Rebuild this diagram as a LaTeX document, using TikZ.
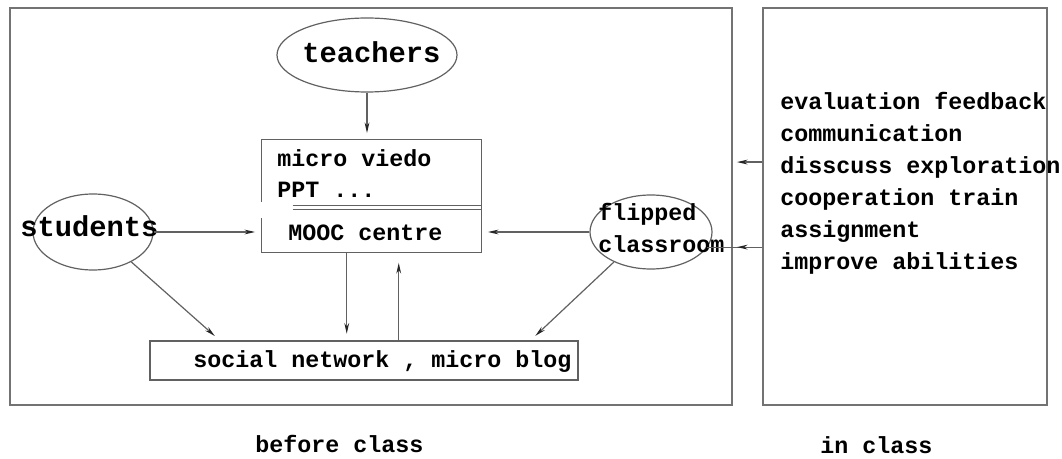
\documentclass[tikz,border=0pt]{standalone}
\usepackage{fontspec}
\setmainfont{Liberation Mono}
\usetikzlibrary{arrows.meta,calc,shapes.geometric}
\begin{document}
\begin{tikzpicture}[x=0.75pt,y=-0.75pt,
  frame/.style={rectangle, draw=black!55, line width=1.4pt, inner sep=0pt},
  line/.style={draw=black!62, line width=0.9pt},
  arr/.style={line, -{Stealth[length=8pt,width=3.6pt,black!85]}, shorten >=5pt},
  oval/.style={ellipse, draw=black!62, line width=0.9pt, inner sep=0pt},
  txt/.style={font=\fontsize{17.5}{24}\selectfont\bfseries, inner sep=0pt, align=left},
  big/.style={font=\fontsize{21.6}{26}\selectfont\bfseries, inner sep=0pt}
]
\useasboundingbox (0,0) rectangle (1062,459);

% frames
\node[frame, minimum width=541.5pt, minimum height=297.75pt] (before) at (371,206.5) {};
\node[frame, minimum width=213pt, minimum height=297.75pt] (inclass) at (905,206.5) {};

% ellipses
\node[oval, minimum width=135pt, minimum height=55.5pt] (teachers) at (367,55) {};
\node[oval, minimum width=90pt, minimum height=57pt] (students) at (93,232) {};
\node[oval, minimum width=91.5pt, minimum height=55.5pt] (flipped) at (651,232) {};

% MOOC box
\node[rectangle, minimum width=164.25pt, minimum height=84pt, inner sep=0pt] (mooc) at (371.5,196) {};
\draw[line] ($(mooc.south west)+(0,-34)$) -- (mooc.south west) -- (mooc.south east)
   -- (mooc.north east) -- (mooc.north west) -- ($(mooc.north west)+(0,62)$);
\draw[line] ($(mooc.north west)+(31,66)$) -- ($(mooc.north east)+(0,66)$);
\draw[line] ($(mooc.north west)+(31,70)$) -- ($(mooc.north east)+(0,70)$);

% social network box
\node[rectangle, draw=black!62, line width=0.9pt, minimum width=321pt, minimum height=29.25pt, inner sep=0pt] (social) at (364,360.5) {};

% texts
\node[big, anchor=base west] (tT) at (302,63) {teachers};
\node[big, anchor=base west] (sT) at (20,237) {students};
\node[txt, anchor=base west] (mT) at (277,167) {micro viedo};
\node[txt, anchor=base west] (pT) at (277,198) {PPT ...};
\node[txt, anchor=base west] (moocT) at (288,241) {MOOC centre};
\node[txt, anchor=base west] (fT) at (598,221) {flipped};
\node[txt, anchor=base west] (cT) at (598,253) {classroom};
\node[txt, anchor=base west] (socT) at (193,367) {social network , micro blog};
\node[txt, anchor=north west] (right) at (780,92) {evaluation feedback\\communication\\disscuss exploration\\cooperation train\\assignment\\improve abilities};
\node[txt, anchor=base west] (bc) at (255,452) {before class};
\node[txt, anchor=base west] (ic) at (820,453) {in class};

% connectors
\draw[arr] (teachers.south) -- (teachers.south |- mooc.north);
\draw[arr] (students.east) -- (students.east -| mooc.west);
\draw[arr] (flipped.west) -- (flipped.west -| mooc.east);
\coordinate (sA) at ($(social.north west)!0.164!(social.north east)$);
\coordinate (sB) at ($(social.north west)!0.888!(social.north east)$);
\draw[arr] (students.-38) -- (sA);
\draw[arr] (flipped.-141) -- (sB);
\coordinate (m1) at ($(mooc.south west)+(85,0)$);
\coordinate (m2) at ($(mooc.south west)+(137,0)$);
\draw[arr] (m1) -- (m1 |- social.north);
\draw[arr, shorten >=8pt] (m2 |- social.north) -- (m2);
% between the frames
\coordinate (r1) at ($(inclass.north west)+(0,155)$);
\coordinate (r2) at (flipped.-15 -| inclass.west);
\draw[line] (flipped.-15) -- (r2);
\draw[arr, shorten >=3pt] (r1) -- (r1 -| before.east);
\draw[arr, shorten >=3pt] (r2) -- (r2 -| before.east);
\end{tikzpicture}
\end{document}
